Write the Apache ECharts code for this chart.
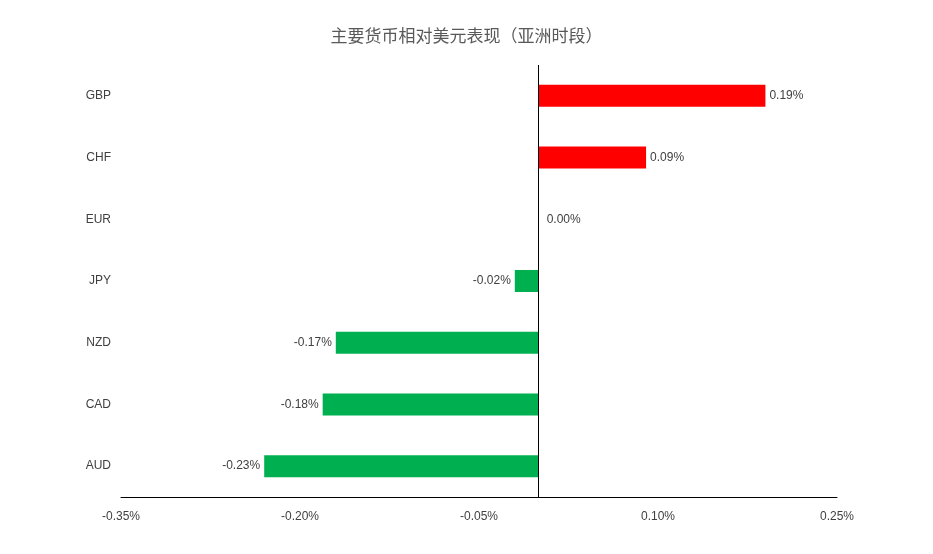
<!DOCTYPE html>
<html><head><meta charset="utf-8">
<script src="https://cdn.jsdelivr.net/npm/echarts@6/dist/echarts.min.js"></script>
<style>html,body{margin:0;padding:0;background:#fff}#c{width:933px;height:554px}</style>
</head><body><div id="c"></div>
<script>
const categories = ['AUD','CAD','NZD','JPY','EUR','CHF','GBP'];
const values = [-0.23, -0.181, -0.17, -0.02, 0.00, 0.09, 0.19];
const labels = ['-0.23%','-0.18%','-0.17%','-0.02%','0.00%','0.09%','0.19%'];
const xTicks = [-0.35, -0.20, -0.05, 0.10, 0.25];
const chart = echarts.init(document.getElementById('c'));
chart.setOption({
  animation:false,
  title:{text:'主要货币相对美元表现（亚洲时段）',left:'center',top:22,
    textStyle:{fontSize:17,fontWeight:'normal',color:'#595959',fontFamily:'Noto Sans CJK SC'}},
  grid:{left:121,right:96,top:65,bottom:57},
  xAxis:{type:'value',min:xTicks[0],max:xTicks[xTicks.length-1],interval:0.15,
    splitLine:{show:false},axisTick:{show:false},
    axisLine:{show:true,onZero:false,lineStyle:{color:'#000'}},
    axisLabel:{color:'#404040',fontSize:12,margin:14,fontFamily:'Liberation Sans',
      formatter:v=>v.toFixed(2)+'%'}},
  yAxis:{type:'category',data:categories,axisLine:{show:false},axisTick:{show:false},
    axisLabel:{color:'#404040',fontSize:12,margin:10,fontFamily:'Liberation Sans'}},
  series:[{type:'bar',barWidth:22,
    data:values.map((v,i)=>({value:v,itemStyle:{color:v>=0?'#FF0000':'#00B050'},
      label:{show:true,position:v>=0?'right':'left',distance:v===0?8:4,
        formatter:labels[i],color:'#404040',fontSize:12,fontFamily:'Liberation Sans'}})),
    markLine:{silent:true,symbol:'none',label:{show:false},
      lineStyle:{color:'#000',type:'solid',width:1},data:[{xAxis:0}]}
  }]
});
</script></body></html>
